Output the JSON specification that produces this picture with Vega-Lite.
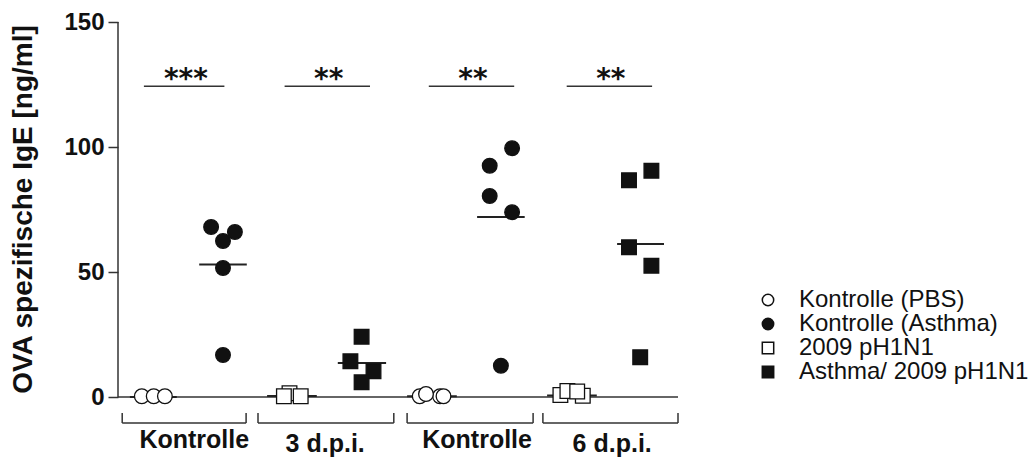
{
  "$schema": "https://vega.github.io/schema/vega-lite/v6.json",
  "width": 560,
  "height": 435,
  "autosize": {"type": "none"},
  "padding": {"left": 118, "top": 22, "right": 358, "bottom": 2},
  "config": {"view": {"stroke": null}, "font": "Liberation Sans"},
  "datasets": {
    "points": [
      {"group": "Kontrolle (PBS)", "x": 0.34, "y": 0.3},
      {"group": "Kontrolle (PBS)", "x": 0.51, "y": 0.3},
      {"group": "Kontrolle (PBS)", "x": 0.67, "y": 0.3},
      {"group": "Kontrolle (Asthma)", "x": 1.33, "y": 68},
      {"group": "Kontrolle (Asthma)", "x": 1.67, "y": 66},
      {"group": "Kontrolle (Asthma)", "x": 1.5, "y": 62.4},
      {"group": "Kontrolle (Asthma)", "x": 1.5, "y": 51.6},
      {"group": "Kontrolle (Asthma)", "x": 1.5, "y": 16.8},
      {"group": "2009 pH1N1", "x": 2.45, "y": 1.5},
      {"group": "2009 pH1N1", "x": 2.37, "y": 0.3},
      {"group": "2009 pH1N1", "x": 2.61, "y": 0.3},
      {"group": "Asthma/ 2009 pH1N1", "x": 3.48, "y": 24.1},
      {"group": "Asthma/ 2009 pH1N1", "x": 3.32, "y": 14.3},
      {"group": "Asthma/ 2009 pH1N1", "x": 3.65, "y": 10.3},
      {"group": "Asthma/ 2009 pH1N1", "x": 3.48, "y": 5.9},
      {"group": "Kontrolle (PBS)", "x": 4.31, "y": 0.3},
      {"group": "Kontrolle (PBS)", "x": 4.6, "y": 0.3},
      {"group": "Kontrolle (PBS)", "x": 4.65, "y": 0.3},
      {"group": "Kontrolle (PBS)", "x": 4.4, "y": 1.2},
      {"group": "Kontrolle (Asthma)", "x": 5.63, "y": 99.5},
      {"group": "Kontrolle (Asthma)", "x": 5.31, "y": 92.5},
      {"group": "Kontrolle (Asthma)", "x": 5.31, "y": 80.4},
      {"group": "Kontrolle (Asthma)", "x": 5.63, "y": 73.9},
      {"group": "Kontrolle (Asthma)", "x": 5.47, "y": 12.5},
      {"group": "2009 pH1N1", "x": 6.32, "y": 0.8},
      {"group": "2009 pH1N1", "x": 6.64, "y": 0.5},
      {"group": "2009 pH1N1", "x": 6.42, "y": 2.4},
      {"group": "2009 pH1N1", "x": 6.56, "y": 2.2},
      {"group": "Asthma/ 2009 pH1N1", "x": 7.62, "y": 90.5},
      {"group": "Asthma/ 2009 pH1N1", "x": 7.3, "y": 86.7},
      {"group": "Asthma/ 2009 pH1N1", "x": 7.3, "y": 59.9},
      {"group": "Asthma/ 2009 pH1N1", "x": 7.62, "y": 52.5},
      {"group": "Asthma/ 2009 pH1N1", "x": 7.46, "y": 15.9}
    ],
    "means": [
      {"x": 0.17, "x2": 0.84, "y": 0},
      {"x": 1.16, "x2": 1.84, "y": 53.0},
      {"x": 2.13, "x2": 2.84, "y": 0.4},
      {"x": 3.14, "x2": 3.83, "y": 13.6},
      {"x": 4.13, "x2": 4.84, "y": 0.3},
      {"x": 5.13, "x2": 5.81, "y": 72.0},
      {"x": 6.13, "x2": 6.84, "y": 0.6},
      {"x": 7.13, "x2": 7.8, "y": 61.2}
    ],
    "sig": [
      {"x": 0.37, "x2": 1.52, "y": 124.3},
      {"x": 2.38, "x2": 3.6, "y": 124.3},
      {"x": 4.44, "x2": 5.66, "y": 124.3},
      {"x": 6.41, "x2": 7.63, "y": 124.3}
    ],
    "stars": [
      {"x": 0.97, "y": 124.3, "label": "***"},
      {"x": 3.01, "y": 124.3, "label": "**"},
      {"x": 5.07, "y": 124.3, "label": "**"},
      {"x": 7.04, "y": 124.3, "label": "**"}
    ],
    "bracketH": [
      {"x": 0.06, "x2": 1.83, "y": -10.4},
      {"x": 2.0, "x2": 3.94, "y": -10.4},
      {"x": 4.13, "x2": 5.93, "y": -10.4},
      {"x": 6.07, "x2": 8.0, "y": -10.4}
    ],
    "bracketV": [
      {"x": 0.06, "y": -6.4, "y2": -10.4},
      {"x": 1.83, "y": -6.4, "y2": -10.4},
      {"x": 2.0, "y": -6.4, "y2": -10.4},
      {"x": 3.94, "y": -6.4, "y2": -10.4},
      {"x": 4.13, "y": -6.4, "y2": -10.4},
      {"x": 5.93, "y": -6.4, "y2": -10.4},
      {"x": 6.07, "y": -6.4, "y2": -10.4},
      {"x": 8.0, "y": -6.4, "y2": -10.4}
    ],
    "labels": [
      {"x": 1.09, "y": -20.4, "label": "Kontrolle"},
      {"x": 2.96, "y": -21.8, "label": "3 d.p.i."},
      {"x": 5.13, "y": -20.4, "label": "Kontrolle"},
      {"x": 7.06, "y": -21.8, "label": "6 d.p.i."}
    ],
    "yaxis": [{"x": 0, "y": 0, "y2": 150}],
    "baseline": [{"x": 0, "x2": 8.0, "y": 0}]
  },
  "encoding": {
    "x": {"field": "x", "type": "quantitative", "scale": {"domain": [0, 8], "nice": false, "zero": false}, "axis": null},
    "y": {
      "field": "y", "type": "quantitative",
      "scale": {"domain": [-24, 150], "nice": false, "zero": false},
      "axis": {
        "values": [0, 50, 100, 150], "domain": false, "grid": false,
        "tickSize": 10, "tickWidth": 1.5, "tickColor": "#333",
        "labelFontSize": 24, "labelFontWeight": "bold", "labelColor": "#111", "labelPadding": 4,
        "labelFont": "Liberation Sans",
        "title": "OVA spezifische IgE [ng/ml]", "titleFontSize": 28, "titleFontWeight": "bold",
        "titleColor": "#111", "titlePadding": 26, "titleY": 187, "titleFont": "Liberation Sans"
      }
    }
  },
  "layer": [
    {"data": {"name": "yaxis"}, "mark": {"type": "rule", "color": "#333", "strokeWidth": 1.5},
     "encoding": {"y2": {"field": "y2"}}},
    {"data": {"name": "baseline"}, "mark": {"type": "rule", "color": "#333", "strokeWidth": 1.5},
     "encoding": {"x2": {"field": "x2"}}},
    {"data": {"name": "means"}, "mark": {"type": "rule", "color": "#222", "strokeWidth": 2},
     "encoding": {"x2": {"field": "x2"}}},
    {"data": {"name": "sig"}, "mark": {"type": "rule", "color": "#333", "strokeWidth": 1.6},
     "encoding": {"x2": {"field": "x2"}}},
    {"data": {"name": "bracketH"}, "mark": {"type": "rule", "color": "#333", "strokeWidth": 1.5},
     "encoding": {"x2": {"field": "x2"}}},
    {"data": {"name": "bracketV"}, "mark": {"type": "rule", "color": "#333", "strokeWidth": 1.5},
     "encoding": {"y2": {"field": "y2"}}},
    {"data": {"name": "points"},
     "mark": {"type": "point", "filled": true, "stroke": "#111", "strokeWidth": 1.3, "opacity": 1, "size": 215},
     "encoding": {
       "shape": {"field": "group", "type": "nominal",
         "scale": {"domain": ["Kontrolle (PBS)", "Kontrolle (Asthma)", "2009 pH1N1", "Asthma/ 2009 pH1N1"],
                   "range": ["circle", "circle", "square", "square"]},
         "legend": {"title": null, "orient": "none", "legendX": 638, "legendY": 266, "symbolSize": 130,
                    "labelFontSize": 24, "labelFont": "Liberation Sans", "labelColor": "#111", "labelOffset": 19,
                    "rowPadding": 0, "padding": 0, "labelLimit": 400,
                    "encode": {"symbols": {"update": {"stroke": {"value": "#111"}, "strokeWidth": {"value": 1.3}}}}}},
       "fill": {"field": "group", "type": "nominal",
         "scale": {"domain": ["Kontrolle (PBS)", "Kontrolle (Asthma)", "2009 pH1N1", "Asthma/ 2009 pH1N1"],
                   "range": ["#ffffff", "#111111", "#ffffff", "#111111"]},
         "legend": {"title": null, "orient": "none", "legendX": 638, "legendY": 266, "symbolSize": 130,
                    "labelFontSize": 24, "labelFont": "Liberation Sans", "labelColor": "#111", "labelOffset": 19,
                    "rowPadding": 0, "padding": 0, "labelLimit": 400,
                    "encode": {"symbols": {"update": {"stroke": {"value": "#111"}, "strokeWidth": {"value": 1.3}}}}}}
     }},
    {"data": {"name": "stars"},
     "mark": {"type": "text", "font": "DejaVu Sans", "fontWeight": "bold", "fontSize": 28, "align": "center", "baseline": "alphabetic", "dy": 2, "color": "#111"},
     "encoding": {"text": {"field": "label"}}},
    {"data": {"name": "labels"},
     "mark": {"type": "text", "font": "Liberation Sans", "fontWeight": "bold", "fontSize": 25, "align": "center", "baseline": "alphabetic", "color": "#111"},
     "encoding": {"text": {"field": "label"}}}
  ]
}
